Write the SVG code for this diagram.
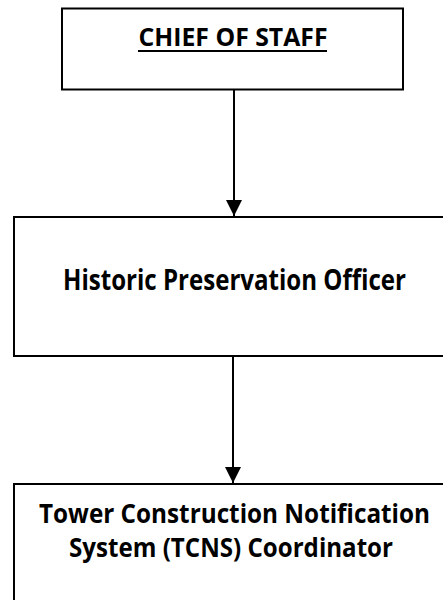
<svg xmlns="http://www.w3.org/2000/svg" width="443" height="600" viewBox="0 0 443 600">
<style>
  .box { fill: #ffffff; stroke: #000000; stroke-width: 2; }
  .lbl { font-family: "Open Sans", "Noto Sans", sans-serif; font-weight: bold; fill: #000000; text-anchor: middle; }
  .conn { stroke: #000000; stroke-width: 2; fill: none; }
</style>
<defs>
  <marker id="arrow" viewBox="0 0 16 16" refX="16" refY="8" markerWidth="16" markerHeight="16" markerUnits="userSpaceOnUse" orient="auto">
    <path d="M0,0 L16,8 L0,16 Z" fill="#000000"/>
  </marker>
</defs>
<rect width="443" height="600" fill="#ffffff"/>
<g id="connectors">
  <line class="conn" x1="234" y1="89" x2="234" y2="216" marker-end="url(#arrow)"/>
  <line class="conn" x1="233" y1="356" x2="233" y2="483" marker-end="url(#arrow)"/>
</g>
<g id="node-chief">
  <rect class="box" x="62" y="8.5" width="341" height="81"/>
  <text class="lbl" x="233" y="45.5" font-size="25" textLength="189" lengthAdjust="spacingAndGlyphs">CHIEF OF STAFF</text>
  <line x1="138" y1="51" x2="327" y2="51" stroke="#000000" stroke-width="2"/>
</g>
<g id="node-hpo">
  <rect class="box" x="14" y="217" width="440" height="139"/>
  <text class="lbl" x="234.5" y="290" font-size="28" textLength="343" lengthAdjust="spacingAndGlyphs">Historic Preservation Officer</text>
</g>
<g id="node-tcns">
  <rect class="box" x="14" y="484" width="440" height="130"/>
  <text class="lbl" x="234.5" y="523.3" font-size="27" textLength="391" lengthAdjust="spacingAndGlyphs">Tower Construction Notification</text>
  <text class="lbl" x="231" y="557.3" font-size="27" textLength="324" lengthAdjust="spacingAndGlyphs">System (TCNS) Coordinator</text>
</g>
</svg>
